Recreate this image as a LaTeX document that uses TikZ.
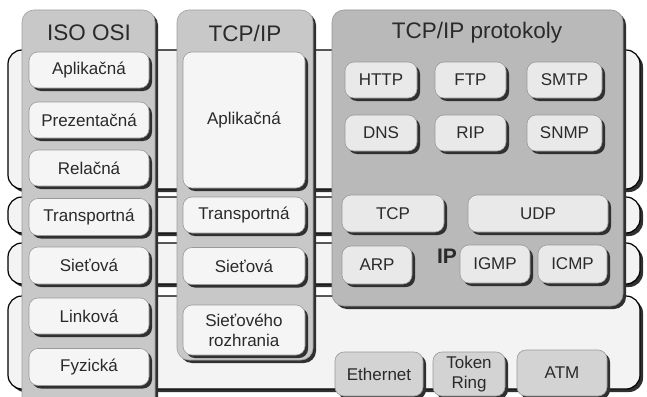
\documentclass[tikz,border=0pt]{standalone}
\usepackage{fontspec}
\setmainfont{Liberation Sans}
\usetikzlibrary{shadows}
\definecolor{txt}{HTML}{2A2A2A}
\definecolor{bandfill}{HTML}{F3F3F3}
\definecolor{colfill}{HTML}{C8C8C8}
\definecolor{panfill}{HTML}{B9B9B9}
\definecolor{boxfill}{HTML}{F5F5F5}
\definecolor{pboxfill}{HTML}{E9E9E9}
\definecolor{lboxfill}{HTML}{D3D3D3}
\definecolor{shd}{HTML}{303030}
\tikzset{
  shd/.style={drop shadow={shadow xshift=3pt,shadow yshift=-3pt,fill=shd,opacity=1}},
  band/.style={draw=black,line width=1.2pt,fill=bandfill,rounded corners=14pt,shd},
  column/.style={draw=colfill!80!black,line width=0.6pt,fill=colfill,rounded corners=12pt,shd},
  panel/.style={column,fill=panfill,draw=panfill!80!black},
  obox/.style={draw=gray!80,line width=0.6pt,fill=boxfill,rounded corners=9pt,shd,inner sep=0pt,align=center,text=txt,font=\fontsize{17}{20}\selectfont},
  pbox/.style={obox,fill=pboxfill},
  lbox/.style={obox,fill=lboxfill},
  ttl/.style={text=txt,font=\fontsize{22.5}{24}\selectfont,inner sep=0pt},
}
\begin{document}
\begin{tikzpicture}[x=1pt,y=-1pt]
\useasboundingbox (0,0) rectangle (647,396);
\clip (0,0) rectangle (647,396);
% bands
\path[band] (8,50) rectangle (640,189);
\path[band] (8,197) rectangle (640,233);
\path[band] (8,243) rectangle (640,284);
\path[band] (8,296) rectangle (640,389);
% columns
\path[column] (22,10) rectangle (155,410);
\path[column] (177,10) rectangle (313,360);
\path[panel] (332,10) rectangle (623,306);
% titles
\node[ttl] (t1) at (89,33) {ISO OSI};
\node[ttl] (t2) at (245,33) {TCP/IP};
\node[ttl] (t3) at (477,33) {TCP/IP protokoly};
% ISO OSI
\node[obox,minimum width=120pt,minimum height=36pt] (o1) at (89,70) {Aplikačná};
\node[obox,minimum width=120pt,minimum height=36pt] (o2) at (89,120) {Prezentačná};
\node[obox,minimum width=120pt,minimum height=36pt] (o3) at (89,168) {Relačná};
\node[obox,minimum width=120pt,minimum height=37pt] (o4) at (89,217) {Transportná};
\node[obox,minimum width=120pt,minimum height=37pt] (o5) at (89,265.5) {Sieťová};
\node[obox,minimum width=120pt,minimum height=36pt] (o6) at (89,316) {Linková};
\node[obox,minimum width=120pt,minimum height=37pt] (o7) at (89,367) {Fyzická};
% TCP/IP
\node[obox,minimum width=122pt,minimum height=136pt] (c1) at (244,120) {Aplikačná};
\node[obox,minimum width=122pt,minimum height=36pt] (c2) at (244,215) {Transportná};
\node[obox,minimum width=122pt,minimum height=37pt] (c3) at (244,266) {Sieťová};
\node[obox,minimum width=122pt,minimum height=50pt] (c4) at (244,330) {Sieťového\\rozhrania};
% protocols
\node[pbox,minimum width=72pt,minimum height=36pt] (http) at (381,80) {HTTP};
\node[pbox,minimum width=71pt,minimum height=36pt] (ftp) at (470.5,80) {FTP};
\node[pbox,minimum width=75pt,minimum height=36pt] (smtp) at (564.5,80) {SMTP};
\node[pbox,minimum width=72pt,minimum height=36pt] (dns) at (381,133) {DNS};
\node[pbox,minimum width=71pt,minimum height=36pt] (rip) at (470.5,133) {RIP};
\node[pbox,minimum width=75pt,minimum height=36pt] (snmp) at (564.5,133) {SNMP};
\node[pbox,minimum width=102pt,minimum height=37pt] (tcp) at (393,213.5) {TCP};
\node[pbox,minimum width=140pt,minimum height=37pt] (udp) at (538,213.5) {UDP};
\node[pbox,minimum width=70pt,minimum height=38pt] (arp) at (377,265) {ARP};
\node[text=txt,font=\fontsize{21}{22}\selectfont\bfseries,inner sep=0pt] (ip) at (447,256) {IP};
\node[pbox,minimum width=70pt,minimum height=38pt] (igmp) at (495,264) {IGMP};
\node[pbox,minimum width=69pt,minimum height=38pt] (icmp) at (572.5,264) {ICMP};
% link technologies
\node[lbox,minimum width=88pt,minimum height=44pt] (eth) at (379,374) {Ethernet};
\node[lbox,minimum width=72pt,minimum height=44pt] (tr) at (469,374) {Token\\Ring};
\node[lbox,minimum width=90pt,minimum height=46pt] (atm) at (562,373) {ATM};
\end{tikzpicture}
\end{document}
